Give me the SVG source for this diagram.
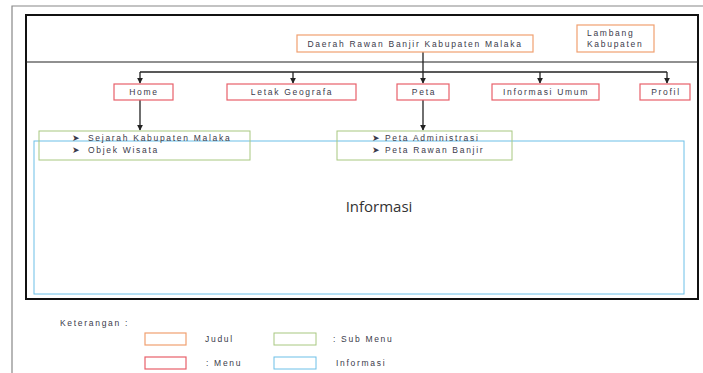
<svg xmlns="http://www.w3.org/2000/svg" width="703" height="373" viewBox="0 0 703 373">
<defs>
<marker id="ah" viewBox="0 0 8 8" refX="7" refY="4" markerWidth="6" markerHeight="6" orient="auto" markerUnits="userSpaceOnUse"><path d="M0,0 L8,4 L0,8 Z" fill="#222"/></marker>
</defs>
<style>
text{font-family:"Liberation Sans",Arial,sans-serif;fill:#3a3a4a;font-size:8.5px;letter-spacing:1.7px}
.title{fill:#fff;stroke:#f0a070;stroke-width:1.2}
.menu{fill:#fff;stroke:#e8606a;stroke-width:1.2}
.sub{fill:none;stroke:#a8c880;stroke-width:1}
.info{fill:none;stroke:#6cc0e8;stroke-width:1}
.ln{stroke:#222;stroke-width:1.3;fill:none}
</style>
<rect width="703" height="373" fill="#fff"/>
<path d="M12,373 V6 H703" fill="none" stroke="#888" stroke-width="1.2"/>
<rect id="frame" x="26" y="15" width="672" height="284" fill="none" stroke="#111" stroke-width="2"/>
<line x1="26" y1="62" x2="698" y2="62" stroke="#222" stroke-width="1.2"/>
<g id="informasi">
<rect class="info" x="34" y="141" width="650" height="153"/>
<text x="379" y="212" text-anchor="middle" style="font-size:15px;letter-spacing:0;font-family:'Open Sans','Liberation Sans',sans-serif;fill:#333">Informasi</text>
</g>
<g id="connectors">
<path class="ln" d="M423,52 V83" marker-end="url(#ah)"/>
<path class="ln" d="M140,72 H667"/>
<path class="ln" d="M140,72 V83" marker-end="url(#ah)"/>
<path class="ln" d="M293,72 V83" marker-end="url(#ah)"/>
<path class="ln" d="M540,72 V83" marker-end="url(#ah)"/>
<path class="ln" d="M667,72 V83" marker-end="url(#ah)"/>
<path class="ln" d="M140,100 V130" marker-end="url(#ah)"/>
<path class="ln" d="M423,100 V130" marker-end="url(#ah)"/>
</g>
<g id="judul">
<rect class="title" x="297" y="35" width="236" height="17"/>
<text x="415" y="46.5" text-anchor="middle">Daerah Rawan Banjir Kabupaten Malaka</text>
</g>
<g id="lambang">
<rect class="title" x="577" y="25" width="77" height="27"/>
<text x="587" y="36">Lambang</text>
<text x="587" y="47">Kabupaten</text>
</g>
<g id="home"><rect class="menu" x="114" y="84" width="59" height="16"/><text x="144" y="95" text-anchor="middle">Home</text></g>
<g id="letak"><rect class="menu" x="227" y="84" width="129" height="16"/><text x="292" y="95" text-anchor="middle">Letak Geografa</text></g>
<g id="peta"><rect class="menu" x="397" y="84" width="52" height="16"/><text x="424" y="95" text-anchor="middle">Peta</text></g>
<g id="umum"><rect class="menu" x="492" y="84" width="107" height="16"/><text x="546" y="95" text-anchor="middle">Informasi Umum</text></g>
<g id="profil"><rect class="menu" x="640" y="84" width="50" height="16"/><text x="666" y="95" text-anchor="middle">Profil</text></g>
<g id="sub1">
<rect class="sub" x="39" y="131" width="211" height="29"/>
<text x="72" y="141">➤</text><text x="88" y="141">Sejarah Kabupaten Malaka</text>
<text x="72" y="153">➤</text><text x="88" y="153">Objek Wisata</text>
</g>
<g id="sub2">
<rect class="sub" x="337" y="131" width="175" height="29"/>
<text x="372" y="141">➤</text><text x="385" y="141">Peta Administrasi</text>
<text x="372" y="153">➤</text><text x="385" y="153">Peta Rawan Banjir</text>
</g>
<g id="legend">
<text x="60" y="326">Keterangan :</text>
<rect class="title" x="145" y="333" width="41" height="12"/>
<text x="205" y="342">Judul</text>
<rect class="menu" x="145" y="357" width="41" height="12"/>
<text x="206" y="366">: Menu</text>
<rect class="sub" x="274" y="333" width="42" height="12" stroke-width="1.2"/>
<text x="333" y="342">: Sub Menu</text>
<rect class="info" x="274" y="357" width="42" height="12" stroke-width="1.2"/>
<text x="336" y="366">Informasi</text>
</g>
</svg>
